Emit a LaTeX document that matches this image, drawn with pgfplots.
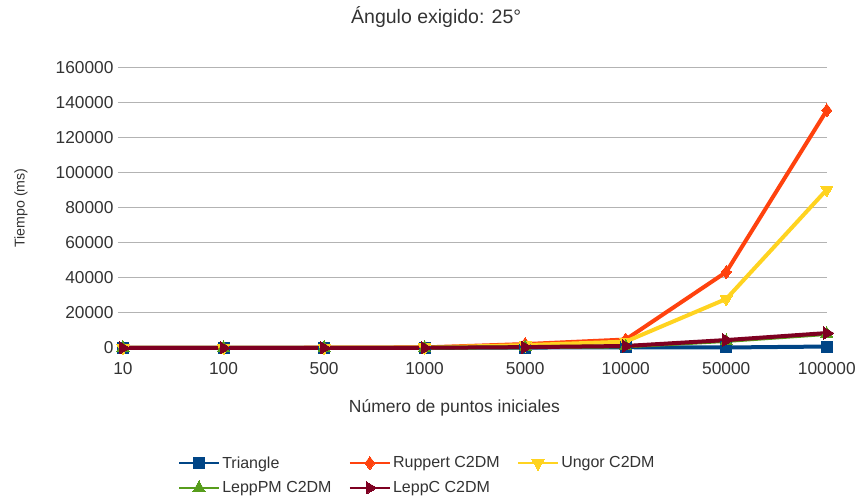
\documentclass[border=0pt]{standalone}
\usepackage{pgfplots}
\pgfplotsset{compat=1.18}
\usepackage{fontspec}
\setmainfont{Liberation Sans}

\definecolor{txt}{HTML}{333333}
\definecolor{gridc}{HTML}{B3B3B3}
\definecolor{cTri}{HTML}{004586}
\definecolor{cRup}{HTML}{FF420E}
\definecolor{cUng}{HTML}{FFD320}
\definecolor{cLpm}{HTML}{579D1C}
\definecolor{cLc}{HTML}{7E0021}

\begin{document}
\begin{tikzpicture}[x=1pt,y=1pt]
\begin{axis}[
  scale only axis,
  width=704pt, height=280pt,
  xmin=0, xmax=7,
  ymin=0, ymax=160000,
  xtick={0,1,2,3,4,5,6,7},
  xticklabels={10,100,500,1000,5000,10000,50000,100000},
  ytick={0,20000,40000,60000,80000,100000,120000,140000,160000},
  scaled y ticks=false,
  /pgf/number format/assume math mode=true,
  yticklabel={\pgfmathprintnumber[fixed,1000 sep={}]{\tick}},
  ymajorgrids,
  grid style={gridc, line width=1pt},
  axis line style={gridc, line width=1pt},
  x axis line style={draw=none},
  tick style={gridc, line width=1pt},
  xtick style={draw=none},
  ytick pos=left,
  tick align=outside,
  major tick length=5pt,
  ticklabel style={font=\fontsize{17.3}{20}\selectfont, text=txt},
  xticklabel style={yshift=-6pt},
  yticklabel style={xshift=-1pt},
  title={Ángulo exigido: 25°},
  title style={font=\fontsize{19.5}{22}\selectfont, text=txt, at={(0.445,1)}, anchor=south, yshift=31pt},
  xlabel={Número de puntos iniciales},
  xlabel style={font=\fontsize{17.5}{20}\selectfont, text=txt, at={(0.471,0)}, anchor=center, yshift=-60pt},
  ylabel={Tiempo (ms)},
  ylabel style={font=\fontsize{14.2}{17}\selectfont, text=txt, at={(axis description cs:-0.145,0.5)}, anchor=center},
  every axis plot/.append style={line width=4pt, line join=miter},
  legend columns=3,
  legend style={draw=none, font=\fontsize{16}{18}\selectfont, text=txt,
    at={(0.418,-0.38)}, anchor=north,
    /tikz/every even column/.append style={column sep=15pt},
    row sep=8pt, inner sep=0pt},
  legend cell align=left,
  legend image code/.code={%
    \draw[mark repeat=2, mark phase=2, line width=2.5pt]
      plot coordinates {(-6pt,0pt) (14pt,0pt) (34pt,0pt)};},
  clip=false,
]
% Triangle
\addplot[cTri, mark=square*, mark size=5.5pt, mark options={solid, line width=0pt}]
  coordinates {(0,5) (1,10) (2,30) (3,60) (4,200) (5,400) (6,250) (7,800)};
\addlegendentry{Triangle}
% Ruppert C2DM
\addplot[cRup, mark=diamond*, mark size=6.5pt, mark options={solid, line width=0pt}]
  coordinates {(0,10) (1,30) (2,120) (3,300) (4,2200) (5,4800) (6,43400) (7,135800)};
\addlegendentry{Ruppert C2DM}
% Ungor C2DM
\addplot[cUng, mark=triangle*, mark size=7pt, mark options={solid, rotate=180, line width=0pt}]
  coordinates {(0,10) (1,25) (2,100) (3,250) (4,1600) (5,3600) (6,28000) (7,90500)};
\addlegendentry{Ungor C2DM}
% LeppPM C2DM
\addplot[cLpm, mark=triangle*, mark size=7pt, mark options={solid, line width=0pt}]
  coordinates {(0,5) (1,10) (2,40) (3,80) (4,400) (5,900) (6,4000) (7,8000)};
\addlegendentry{LeppPM C2DM}
% LeppC C2DM
\addplot[cLc, mark=triangle*, mark size=7pt, mark options={solid, rotate=-90, line width=0pt}]
  coordinates {(0,5) (1,10) (2,40) (3,90) (4,450) (5,1100) (6,4500) (7,8500)};
\addlegendentry{LeppC C2DM}
\end{axis}
\path[use as bounding box] (-123pt,-151pt) rectangle (736pt,348pt);
\end{tikzpicture}
\end{document}
